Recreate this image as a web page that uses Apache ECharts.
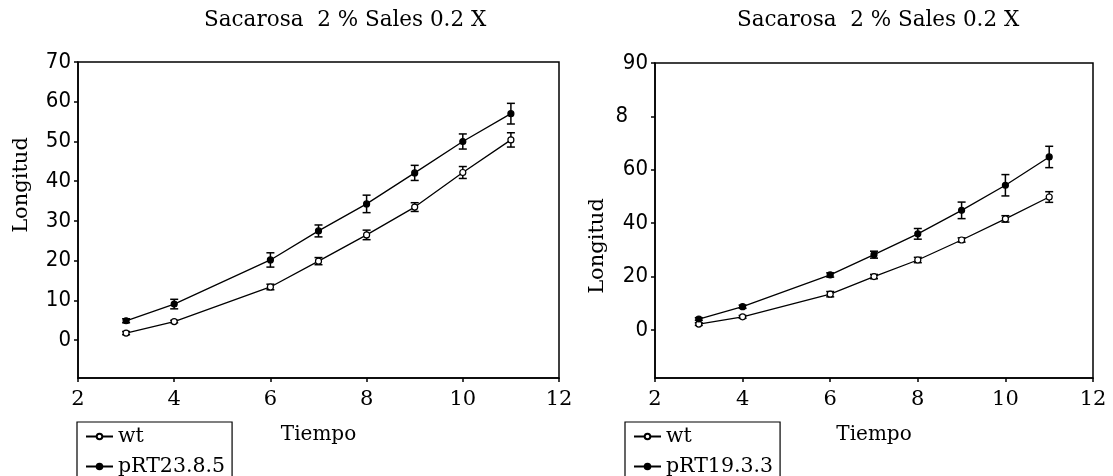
<!DOCTYPE html>
<html>
<head>
<meta charset="utf-8">
<script src="https://cdn.jsdelivr.net/npm/echarts@6/dist/echarts.min.js"></script>
<style>
html,body{margin:0;padding:0;background:#fff;}
#c{width:1113px;height:476px;}
</style>
</head>
<body>
<div id="c"></div>
<script>
// ---- data ----
var titleText = 'Sacarosa  2 % Sales 0.2 X';
var xName = 'Tiempo';
var yName = 'Longitud';
var time = [3, 4, 6, 7, 8, 9, 10, 11];
var xTicks = [2, 4, 6, 8, 10, 12];

// left chart
var leftSeriesNames = ['wt', 'pRT23.8.5'];
var leftWt = [1.8, 4.7, 13.4, 19.9, 26.5, 33.5, 42.2, 50.4];
var leftWtErr = [0.4, 0.3, 0.7, 0.9, 1.2, 1.1, 1.5, 1.8];
var leftPrt = [4.9, 9.1, 20.2, 27.5, 34.3, 42.1, 50.0, 57.0];
var leftPrtErr = [0.5, 1.2, 1.8, 1.5, 2.2, 1.9, 1.9, 2.6];
var leftYTickValues = [0, 10, 20, 30, 40, 50, 60, 70];
var leftYTickLabels = ['0', '10', '20', '30', '40', '50', '60', '70'];

// right chart
var rightSeriesNames = ['wt', 'pRT19.3.3'];
var rightWt = [2.2, 4.9, 13.4, 20.0, 26.2, 33.7, 41.6, 49.8];
var rightWtErr = [0.5, 0.5, 1.0, 0.8, 1.0, 0.8, 1.2, 2.0];
var rightPrt = [4.1, 8.7, 20.6, 28.2, 36.0, 44.8, 54.2, 64.8];
var rightPrtErr = [0.5, 0.6, 0.8, 1.3, 2.0, 3.1, 4.0, 4.0];
var rightYTickValues = [0, 20, 40, 60, 80, 100];
var rightYTickLabels = ['0', '20', '40', '60', '8', '90'];

// ---- helpers ----
function pairs(v) { return time.map(function (t, i) { return [t, v[i]]; }); }
function errPairs(v, e) { return time.map(function (t, i) { return [t, v[i] - e[i], v[i] + e[i]]; }); }
function errItem(params, api) {
  var x = api.value(0), lo = api.coord([x, api.value(1)]), hi = api.coord([x, api.value(2)]);
  var w = 4;
  var st = { stroke: '#000', lineWidth: 1.5 };
  return {
    type: 'group',
    children: [
      { type: 'line', shape: { x1: lo[0], y1: lo[1], x2: hi[0], y2: hi[1] }, style: st },
      { type: 'line', shape: { x1: lo[0] - w, y1: lo[1], x2: lo[0] + w, y2: lo[1] }, style: st },
      { type: 'line', shape: { x1: hi[0] - w, y1: hi[1], x2: hi[0] + w, y2: hi[1] }, style: st }
    ]
  };
}
var serif = 'DejaVu Serif';
var sans = 'DejaVu Sans Condensed';

function xAxisOpt(gi) {
  return {
    type: 'value', gridIndex: gi, min: 2, max: 12, interval: 2,
    name: xName, nameLocation: 'middle', nameGap: 47,
    nameTextStyle: { fontFamily: serif, fontSize: 20, color: '#000' },
    axisLine: { onZero: false, lineStyle: { color: '#000', width: 1.5 } },
    axisTick: { show: true, inside: false, length: 4, lineStyle: { color: '#000', width: 1.5 } },
    axisLabel: { color: '#000', fontFamily: serif, fontSize: 21, margin: 11,
      formatter: function (v) { var i = xTicks.indexOf(v); return i >= 0 ? String(xTicks[i]) : ''; } },
    splitLine: { show: false }
  };
}
function yAxisOpt(gi, min, max, vals, labels) {
  return {
    type: 'value', gridIndex: gi, min: min, max: max,
    axisLine: { show: true, onZero: false, lineStyle: { color: '#000', width: 1.5 } },
    axisTick: { show: true, inside: false, length: 4, customValues: vals, lineStyle: { color: '#000', width: 1.5 } },
    axisLabel: { color: '#000', fontFamily: sans, fontSize: 22, margin: 7, customValues: vals,
      formatter: function (v) {
        var i = vals.indexOf(v); if (i < 0) return '';
        var s = labels[i];
        return s.length === 1 && v !== 0 ? '{p|' + s + '}' : s;
      },
      rich: { p: { fontFamily: sans, fontSize: 22, color: '#000', padding: [0, 20, 0, 0] } } },
    splitLine: { show: false }
  };
}
function lineSeries(name, data, xi, filled) {
  return {
    type: 'line', name: name, xAxisIndex: xi, yAxisIndex: xi, data: pairs(data),
    symbol: 'circle', symbolSize: 6, showSymbol: true,
    lineStyle: { color: '#000', width: 1.3 },
    itemStyle: { color: filled ? '#000' : '#fff', borderColor: '#000', borderWidth: 1.2 },
    emphasis: { disabled: true }, animation: false, z: 3
  };
}
function errSeries(v, e, xi) {
  return {
    type: 'custom', xAxisIndex: xi, yAxisIndex: xi, data: errPairs(v, e),
    renderItem: errItem, animation: false, silent: true, z: 2
  };
}
function legendOpt(left, names) {
  return {
    orient: 'vertical', left: left, top: 422, height: 80,
    data: names, itemWidth: 27, itemHeight: 7, itemGap: 9,
    padding: [4, 7, 8, 8],
    borderColor: '#000', borderWidth: 1.2,
    selectedMode: false,
    textStyle: { fontFamily: serif, fontSize: 20.5, color: '#000' }
  };
}

var chart = echarts.init(document.getElementById('c'));
chart.setOption({
  backgroundColor: '#fff',
  animation: false,
  title: [
    { text: titleText, left: 204, top: 9, padding: 0,
      textStyle: { fontFamily: serif, fontSize: 21.5, fontWeight: 'normal', color: '#000' } },
    { text: titleText, left: 737, top: 9, padding: 0,
      textStyle: { fontFamily: serif, fontSize: 21.5, fontWeight: 'normal', color: '#000' } }
  ],
  grid: [
    { left: 78, right: 1113 - 559, top: 62, bottom: 476 - 378, show: true, borderColor: '#000', borderWidth: 1.5, backgroundColor: 'transparent' },
    { left: 655, right: 1113 - 1093, top: 63, bottom: 476 - 378, show: true, borderColor: '#000', borderWidth: 1.5, backgroundColor: 'transparent' }
  ],
  xAxis: [xAxisOpt(0), xAxisOpt(1)],
  yAxis: [
    yAxisOpt(0, -9.5, 70, leftYTickValues, leftYTickLabels),
    yAxisOpt(1, -18, 100, rightYTickValues, rightYTickLabels)
  ],
  legend: [legendOpt(77, leftSeriesNames), legendOpt(625, rightSeriesNames)],
  graphic: [
    { type: 'text', x: 22, y: 185, rotation: Math.PI / 2,
      style: { text: yName, fontFamily: serif, fontSize: 21, fill: '#000', align: 'center', verticalAlign: 'middle' } },
    { type: 'text', x: 598, y: 246, rotation: Math.PI / 2,
      style: { text: yName, fontFamily: serif, fontSize: 21, fill: '#000', align: 'center', verticalAlign: 'middle' } }
  ],
  series: [
    errSeries(leftWt, leftWtErr, 0),
    errSeries(leftPrt, leftPrtErr, 0),
    lineSeries(leftSeriesNames[0], leftWt, 0, false),
    lineSeries(leftSeriesNames[1], leftPrt, 0, true),
    errSeries(rightWt, rightWtErr, 1),
    errSeries(rightPrt, rightPrtErr, 1),
    lineSeries(rightSeriesNames[0], rightWt, 1, false),
    lineSeries(rightSeriesNames[1], rightPrt, 1, true)
  ]
});
</script>
</body>
</html>
